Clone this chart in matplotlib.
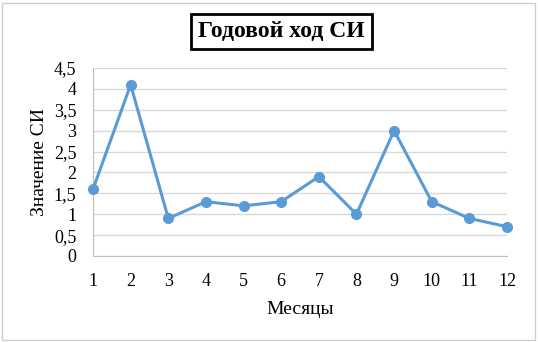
import matplotlib.pyplot as plt
from matplotlib.patches import Rectangle

months = [1, 2, 3, 4, 5, 6, 7, 8, 9, 10, 11, 12]
si_values = [1.6, 4.1, 0.9, 1.3, 1.2, 1.3, 1.9, 1.0, 3.0, 1.3, 0.9, 0.7]
y_ticks = [0, 0.5, 1, 1.5, 2, 2.5, 3, 3.5, 4, 4.5]
y_labels = ["0", "0,5", "1", "1,5", "2", "2,5", "3", "3,5", "4", "4,5"]

plt.rcParams['font.family'] = ['Liberation Serif', 'DejaVu Serif']

fig = plt.figure(figsize=(5.38, 3.42), dpi=100)
ax = fig.add_axes([0.1729, 0.2515, 0.7695, 0.5497])

# light frame around the whole chart
fig.patches.append(Rectangle((0.004, 0.006), 0.99, 0.986, transform=fig.transFigure,
                             fill=False, edgecolor='#d0d0d0', linewidth=1))

ax.plot(months, si_values, color='#5b9bd5', linewidth=2.2, marker='o', markersize=7, clip_on=False, zorder=3)

ax.set_xlim(1, 12)
ax.set_ylim(0, 4.5)
ax.set_xticks(months)
ax.set_yticks(y_ticks)
ax.set_yticklabels(y_labels)
ax.grid(axis='y', color='#d9d9d9', linewidth=1)
ax.set_axisbelow(True)
for s in ['top', 'right']:
    ax.spines[s].set_visible(False)
for s in ['left', 'bottom']:
    ax.spines[s].set_color('#bfbfbf')
ax.tick_params(length=0, labelsize=13, colors='black')
ax.tick_params(axis='x', pad=12)
ax.tick_params(axis='y', pad=12)

ax.set_xlabel("Месяцы", fontsize=14, labelpad=8)
ax.set_ylabel("Значение СИ", fontsize=14, labelpad=4)

fig.text(0.523, 0.908, "Годовой ход СИ", fontsize=17, fontweight='bold', ha='center', va='center',
         bbox=dict(boxstyle='square,pad=0.3', facecolor='white', edgecolor='black', linewidth=2))

fig.savefig("out.png", dpi=100)
